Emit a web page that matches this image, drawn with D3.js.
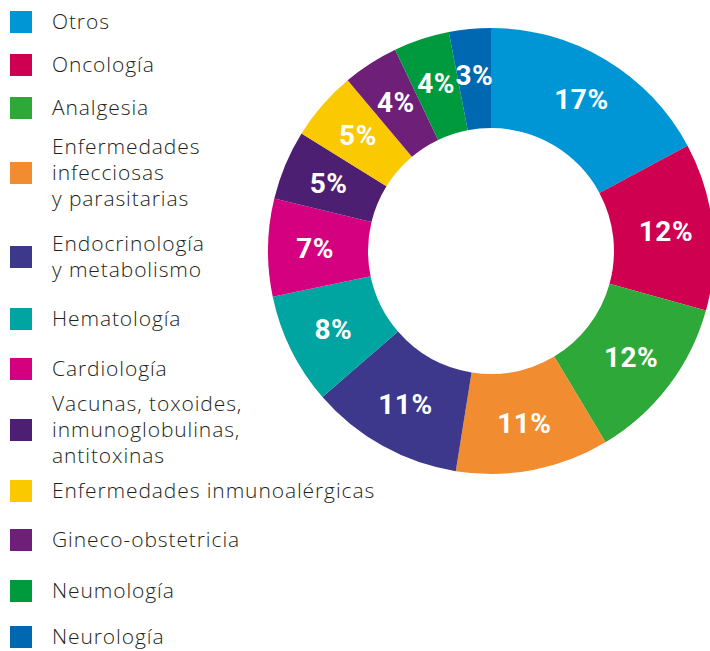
<!DOCTYPE html>
<html>
<head>
<meta charset="utf-8">
<script src="https://cdn.jsdelivr.net/npm/d3@7"></script>
<style>
  html, body { margin: 0; padding: 0; background: #fff; }
  .legend text { font-family: "Open Sans", Roboto, sans-serif; font-weight: 300; font-size: 21px; letter-spacing: 0.9px; fill: #231f20; }
  .pct { font-family: Roboto, "Liberation Sans", sans-serif; font-weight: 700; font-size: 28px; letter-spacing: 0.5px; fill: #fff; }
</style>
</head>
<body>
<div id="chart"></div>
<script>
const categories = [
  "Otros",
  "Oncología",
  "Analgesia",
  "Enfermedades\ninfecciosas\ny parasitarias",
  "Endocrinología\ny metabolismo",
  "Hematología",
  "Cardiología",
  "Vacunas, toxoides,\ninmunoglobulinas,\nantitoxinas",
  "Enfermedades inmunoalérgicas",
  "Gineco-obstetricia",
  "Neumología",
  "Neurología"
];
const values = [17, 12, 12, 11, 11, 8, 7, 5, 5, 4, 4, 3];
const colors = [
  "#0096d6", "#cf004f", "#2fa83a", "#f28c30", "#3d388b", "#00a4a1",
  "#d5007f", "#4d1f73", "#fbc900", "#6e1f78", "#009a3e", "#0068b1"
];

const width = 710, height = 651;
const cx = 491, cy = 251, outerR = 223, innerR = 123;
// vertical centre of each legend entry (layout only)
const legendY = [22, 65, 108, 173, 257, 319, 369, 430, 491, 540, 591, 637];
const lineH = 26;

const data = categories.map((c, i) => ({ label: c, value: values[i], color: colors[i] }));

const svg = d3.select("#chart").append("svg")
  .attr("width", width)
  .attr("height", height);

const pie = d3.pie().value(d => d.value).sort(null);
const arc = d3.arc().innerRadius(innerR).outerRadius(outerR);
const labelArc = d3.arc().innerRadius(176).outerRadius(176);

const g = svg.append("g").attr("transform", `translate(${cx},${cy})`);

g.selectAll("path")
  .data(pie(data))
  .enter().append("path")
    .attr("d", arc)
    .attr("fill", d => d.data.color);

g.selectAll(".pct")
  .data(pie(data))
  .enter().append("text")
    .attr("class", "pct")
    .attr("text-anchor", "middle")
    .attr("dominant-baseline", "central")
    .attr("transform", d => `translate(${labelArc.centroid(d)})`)
    .text(d => d.data.value + "%");

const legend = svg.append("g").attr("class", "legend");

const items = legend.selectAll("g")
  .data(data)
  .enter().append("g")
    .attr("transform", (d, i) => `translate(0,${legendY[i]})`);

items.append("rect")
  .attr("x", 10)
  .attr("y", -11)
  .attr("width", 22)
  .attr("height", 22)
  .attr("fill", d => d.color);

items.append("text")
  .attr("x", 52)
  .each(function(d) {
    const lines = d.label.split("\n");
    const start = -(lines.length - 1) / 2 * lineH;
    d3.select(this).selectAll("tspan")
      .data(lines)
      .enter().append("tspan")
        .attr("x", 52)
        .attr("y", (l, j) => start + j * lineH)
        .attr("dy", "0.35em")
        .text(l => l);
  });
</script>
</body>
</html>
